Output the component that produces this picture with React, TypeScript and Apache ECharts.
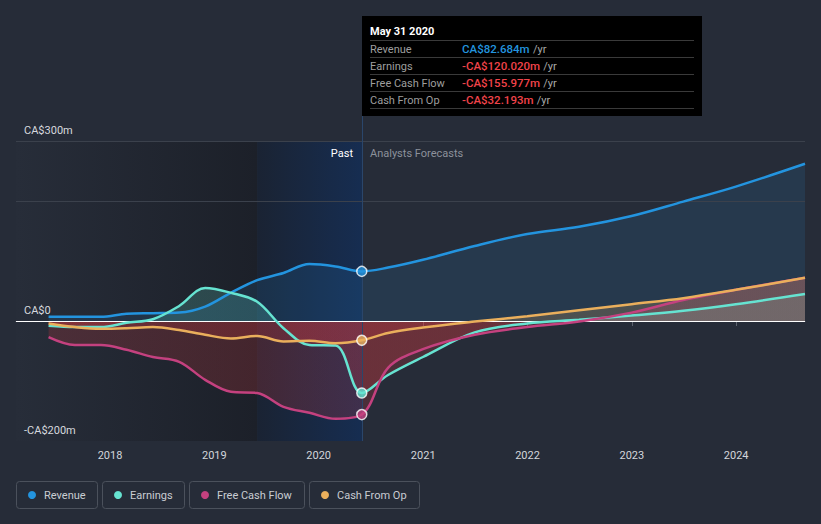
import React, { useEffect, useRef } from "react";
import * as echarts from "echarts";

// ---- data ----
const pastDates = [
  "2017-05-31", "2017-08-31", "2017-11-30", "2018-02-28", "2018-05-31", "2018-08-31",
  "2018-11-30", "2019-02-28", "2019-05-31", "2019-08-31", "2019-11-30", "2020-02-29", "2020-05-31",
];
const forecastDates = [
  "2020-08-31", "2020-12-31", "2021-06-30", "2021-12-31", "2022-06-30", "2022-12-31",
  "2023-06-30", "2023-12-31", "2024-08-29",
];
const revenuePast = [7, 7, 7, 12, 13, 14, 24, 47, 68, 80, 95, 91, 82.684];
const revenueForecast = [89, 102, 125, 145, 157, 175, 199, 224, 262];
const earningsPast = [-8, -10, -10, -3, 3, 25, 55, 47, 32, -12, -40, -41, -120.02];
const earningsForecast = [-90, -60, -19, -4, 2, 9, 17, 28, 45];
const fcfPast = [-27, -40, -40, -48, -60, -68, -98, -118, -120, -143, -153, -163, -155.977];
const fcfForecast = [-78, -47, -23, -10, -1, 14, 35, 52, 72];
const cfoPast = [-4, -10, -13, -12, -10, -15, -23, -29, -25, -34, -33, -37, -32.193];
const cfoForecast = [-20, -11, -1, 8, 18, 28, 38, 52, 72];

const seriesNames = ["Revenue", "Earnings", "Free Cash Flow", "Cash From Op"];
const seriesColors = ["#2394df", "#66e3d1", "#c4417f", "#eaaf5c"];
const positiveFills = [
  "rgba(35,148,223,0.13)",
  "rgba(102,227,209,0.2)",
  "rgba(196,65,127,0.22)",
  "rgba(234,175,92,0.2)",
];
const negativeFill = "rgba(226,58,62,0.2)";

const axisStart = "2017-02-06";
const axisEnd = "2024-08-29";
const bandStart = "2019-05-31";
const dividerDate = "2020-05-31";
const yMin = -200;
const yMax = 300;
const yStep = 100;
const yLabelValues = [300, 0, -200];
const gridLineValues = [300, 200];
const tooltipTitle = "May 31 2020";

const allDates = [...pastDates, ...forecastDates];
const allValues = [
  [...revenuePast, ...revenueForecast],
  [...earningsPast, ...earningsForecast],
  [...fcfPast, ...fcfForecast],
  [...cfoPast, ...cfoForecast],
];
const dividerIndex = pastDates.length - 1;

const FONT = "Roboto, 'Noto Sans', sans-serif";
const BG = "#262c38";

function fmtMoney(v: number, digits: number) {
  const a = Math.abs(v);
  const s = digits > 0 ? a.toFixed(digits) : String(a);
  if (v === 0) return "CA$0";
  return (v < 0 ? "-" : "") + "CA$" + s + "m";
}

export default function App() {
  const ref = useRef<HTMLDivElement>(null);

  useEffect(() => {
    if (!ref.current) return;
    const chart = echarts.init(ref.current, undefined, { renderer: "svg" });

    const gridTop = 141;
    const gridBottom = 83;

    const seriesData = seriesNames.map((_, si) => allDates.map((d, i) => [d, allValues[si][i]]));

    const areaSeries = seriesNames.map((name, si) => ({
      type: "line",
      name: name + " area",
      z: 2,
      smooth: 0.35,
      symbol: "none",
      silent: true,
      lineStyle: { width: 0, opacity: 0 },
      areaStyle: { color: positiveFills[si], opacity: 1, origin: 0 },
      emphasis: { disabled: true },
      data: seriesData[si],
    }));

    const lineSeries = seriesNames.map((name, si) => ({
      type: "line",
      name,
      z: 5,
      smooth: 0.35,
      symbol: "none",
      silent: true,
      lineStyle: { color: seriesColors[si], width: 2.5 },
      itemStyle: { color: seriesColors[si] },
      emphasis: { disabled: true },
      data: seriesData[si],
    }));

    const option: any = {
      backgroundColor: BG,
      animation: false,
      grid: { left: 16, right: 16, top: gridTop, bottom: gridBottom, containLabel: false },
      xAxis: {
        type: "time",
        min: axisStart,
        max: axisEnd,
        minInterval: 365 * 24 * 3600 * 1000,
        maxInterval: 366 * 24 * 3600 * 1000,
        axisLine: { show: true, lineStyle: { color: "#5d636e", width: 1 } },
        axisTick: { show: true, length: 5, lineStyle: { color: "#5d636e" } },
        splitLine: { show: false },
        axisLabel: {
          color: "#d3d6db",
          fontSize: 11,
          fontFamily: FONT,
          margin: 9,
          formatter: "{yyyy}",
        },
      },
      yAxis: {
        type: "value",
        min: yMin,
        max: yMax,
        interval: yStep,
        z: 20,
        axisLine: { show: false },
        axisTick: { show: false },
        splitLine: { show: false },
        axisLabel: {
          inside: true,
          margin: 8,
          color: "#d6d9de",
          fontSize: 11,
          fontFamily: FONT,
          verticalAlign: "bottom",
          padding: [0, 0, 5, 0],
          formatter: (v: number) => (yLabelValues.includes(v) ? fmtMoney(v, 0) : ""),
        },
      },
      series: [
        {
          type: "line",
          name: "bands",
          z: 1,
          silent: true,
          data: [],
          markArea: {
            silent: true,
            data: [
              [
                {
                  xAxis: axisStart,
                  itemStyle: {
                    color: new echarts.graphic.LinearGradient(0, 0, 1, 0, [
                      { offset: 0, color: "#272d39" },
                      { offset: 1, color: "#1c2029" },
                    ]),
                  },
                },
                { xAxis: bandStart },
              ],
              [
                {
                  xAxis: bandStart,
                  itemStyle: {
                    color: new echarts.graphic.LinearGradient(0, 0, 1, 0, [
                      { offset: 0, color: "#1a2333" },
                      { offset: 1, color: "#162d51" },
                    ]),
                  },
                },
                { xAxis: dividerDate },
              ],
            ],
          },
          markLine: {
            silent: true,
            symbol: "none",
            label: { show: false },
            data: [
              ...gridLineValues.map((v) => ({ yAxis: v, lineStyle: { color: "#3b414c", width: 1, type: "solid" } })),
              { xAxis: dividerDate, lineStyle: { color: "#2a466b", width: 1, type: "solid" } },
            ],
          },
        },
        ...areaSeries,
        {
          type: "line",
          name: "zero",
          z: 4,
          silent: true,
          data: [],
          markLine: {
            silent: true,
            symbol: "none",
            label: { show: false },
            data: [{ yAxis: 0, lineStyle: { color: "#ffffff", width: 1.2, type: "solid" } }],
          },
        },
        ...lineSeries,
        {
          type: "scatter",
          name: "markers",
          z: 10,
          silent: true,
          symbol: "circle",
          symbolSize: 10,
          data: seriesNames.map((_, si) => ({
            value: [allDates[dividerIndex], allValues[si][dividerIndex]],
            itemStyle: { color: seriesColors[si], borderColor: "#ffffff", borderWidth: 1.5 },
          })),
        },
      ],
    };

    chart.setOption(option);

    const y0 = chart.convertToPixel({ yAxisIndex: 0 } as any, 0) as number;
    const yTop = chart.convertToPixel({ yAxisIndex: 0 } as any, yMax) as number;
    const yBot = chart.convertToPixel({ yAxisIndex: 0 } as any, yMin) as number;
    const dx = Math.round(
      chart.convertToPixel({ xAxisIndex: 0 } as any, new Date(dividerDate + "T00:00:00").getTime()) as number
    );
    const f = (y0 - yTop) / (yBot - yTop);

    const areaColors = positiveFills.map((pos, si) =>
      si === 0
        ? pos
        : new echarts.graphic.LinearGradient(
            0, yTop, 0, yBot,
            [
              { offset: 0, color: pos },
              { offset: f, color: pos },
              { offset: f, color: negativeFill },
              { offset: 1, color: negativeFill },
            ],
            true
          )
    );

    const boxTop = 16;
    const boxH = 100;
    const boxW = 340;
    const rowGap = 17;
    const rows = seriesNames.map((name, si) => {
      const v = allValues[si][dividerIndex];
      return { name, text: fmtMoney(v, 3), color: v < 0 ? "#f0434a" : seriesColors[si] };
    });

    const Z = 100;
    const graphics: any[] = [
      {
        type: "line",
        silent: true,
        z: Z,
        shape: { x1: dx + 0.5, y1: boxTop + boxH, x2: dx + 0.5, y2: yTop },
        style: { stroke: "#2a466b", lineWidth: 1 },
      },
      {
        type: "rect",
        silent: true,
        z: Z,
        shape: { x: dx, y: boxTop, width: boxW, height: boxH },
        style: { fill: "#000000" },
      },
      {
        type: "text",
        silent: true,
        z: Z + 1,
        x: dx + 8,
        y: boxTop + 15,
        style: {
          text: tooltipTitle,
          fill: "#ffffff",
          font: `bold 11px ${FONT}`,
          verticalAlign: "middle",
        },
      },
    ];
    for (let i = 0; i < 5; i++) {
      graphics.push({
        type: "line",
        silent: true,
        z: Z + 1,
        shape: { x1: dx + 8, y1: boxTop + 24.5 + i * rowGap, x2: dx + boxW - 8, y2: boxTop + 24.5 + i * rowGap },
        style: { stroke: "#3a3a3a", lineWidth: 1 },
      });
    }
    rows.forEach((r, i) => {
      const ry = boxTop + 33 + i * rowGap;
      graphics.push({
        type: "text",
        silent: true,
        z: Z + 1,
        x: dx + 8,
        y: ry,
        style: { text: r.name, fill: "#9e9e9e", font: `11px ${FONT}`, verticalAlign: "middle" },
      });
      graphics.push({
        type: "text",
        silent: true,
        z: Z + 1,
        x: dx + 100,
        y: ry,
        style: {
          text: `{v|${r.text}} {u|/yr}`,
          verticalAlign: "middle",
          rich: {
            v: { fill: r.color, font: `500 11.5px ${FONT}` },
            u: { fill: "#a8a8a8", font: `11px ${FONT}` },
          },
        },
      });
    });
    graphics.push({
      type: "text",
      silent: true,
      z: Z,
      x: dx - 9,
      y: yTop + 12,
      style: { text: "Past", fill: "#ffffff", font: `11px ${FONT}`, align: "right", verticalAlign: "middle" },
    });
    graphics.push({
      type: "text",
      silent: true,
      z: Z,
      x: dx + 8,
      y: yTop + 12,
      style: { text: "Analysts Forecasts", fill: "#8c919b", font: `11px ${FONT}`, verticalAlign: "middle" },
    });

    // legend
    const legendX = [16, 102, 189, 309];
    const legendW = [81, 82, 115, 110];
    const legendY = 481;
    const legendH = 27;
    seriesNames.forEach((name, si) => {
      graphics.push({
        type: "group",
        x: legendX[si],
        y: legendY,
        silent: true,
        z: Z,
        children: [
          {
            type: "rect",
            z: Z,
            shape: { x: 0.5, y: 0.5, width: legendW[si], height: legendH, r: 3 },
            style: { fill: "transparent", stroke: "#4b515c", lineWidth: 1 },
          },
          {
            type: "circle",
            z: Z,
            shape: { cx: 16, cy: legendH / 2 + 0.5, r: 4 },
            style: { fill: seriesColors[si] },
          },
          {
            type: "text",
            z: Z,
            x: 28,
            y: legendH / 2 + 0.5,
            style: { text: name, fill: "#c9cdd3", font: `11px ${FONT}`, verticalAlign: "middle" },
          },
        ],
      });
    });

    chart.setOption({
      series: [
        {},
        ...areaColors.map((c) => ({ areaStyle: { color: c, opacity: 1, origin: 0 } })),
      ],
      graphic: graphics,
    });

    return () => chart.dispose();
  }, []);

  return (
    <div
      ref={ref}
      style={{ position: "fixed", left: 0, top: 0, width: 821, height: 524 }}
    />
  );
}
